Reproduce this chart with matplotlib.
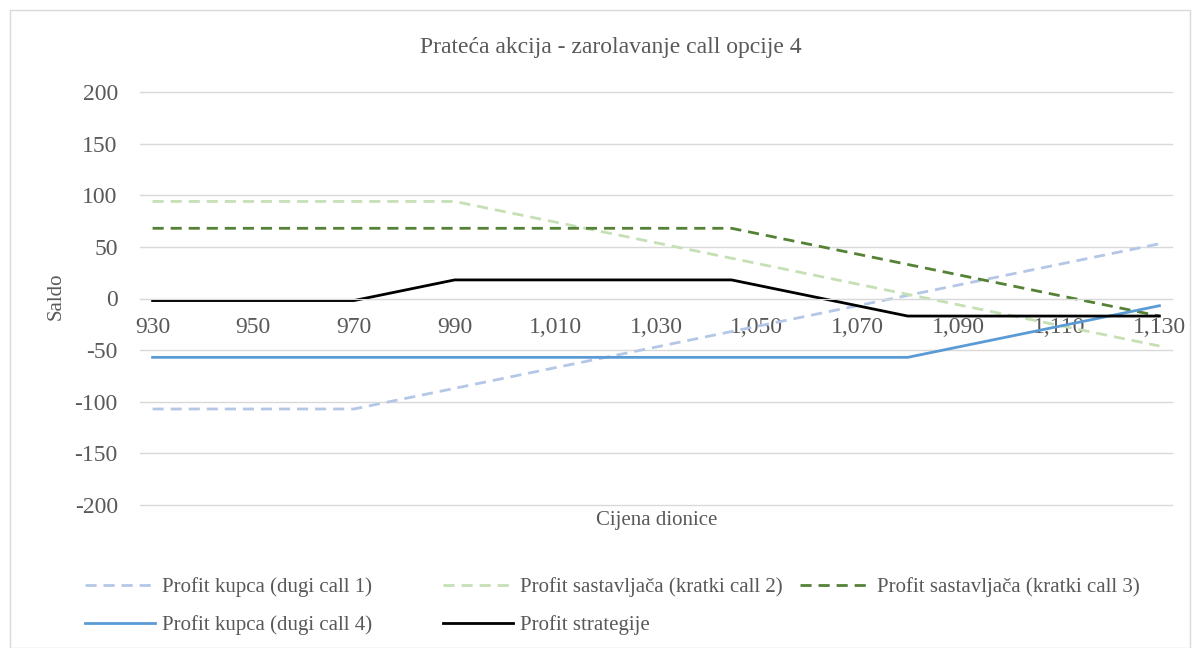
import matplotlib.pyplot as plt
from matplotlib.patches import Rectangle
from matplotlib.ticker import FuncFormatter

plt.rcParams['font.family'] = ['Liberation Serif', 'DejaVu Serif']
plt.rcParams['axes.unicode_minus'] = False

# stock price breakpoints
prices = [930, 970, 990, 1045, 1080, 1130]

long_call_1 = [-107, -107, -87, -32, 3, 53]
short_call_2 = [94, 94, 94, 39, 4, -46]
short_call_3 = [68, 68, 68, 68, 33, -17]
long_call_4 = [-57, -57, -57, -57, -57, -7]
strategy = [-2, -2, 18, 18, -17, -17]

labels = ['Profit kupca (dugi call 1)', 'Profit sastavljača (kratki call 2)',
          'Profit sastavljača (kratki call 3)', 'Profit kupca (dugi call 4)',
          'Profit strategije']

grey = '#595959'

fig = plt.figure(figsize=(12, 6.48), dpi=100)
ax = fig.add_axes([140 / 1200, 1 - 505 / 648, 1032 / 1200, 413 / 648])

l1, = ax.plot(prices, long_call_1, color='#b4c7e7', lw=2, ls=(0, (4, 2.5)))
l2, = ax.plot(prices, short_call_2, color='#c5e0b4', lw=2, ls=(0, (4, 2.5)))
l3, = ax.plot(prices, short_call_3, color='#548235', lw=2, ls=(0, (4, 2.5)))
l4, = ax.plot(prices, long_call_4, color='#5b9bd5', lw=2)
l5, = ax.plot(prices, strategy, color='black', lw=2)

ax.set_xlim(927.5, 1132.5)
ax.set_ylim(-200, 200)
ax.set_yticks(range(-200, 201, 50))
ax.set_xticks(range(930, 1131, 20))
ax.xaxis.set_major_formatter(FuncFormatter(lambda v, p: f'{int(v):,}'))
ax.grid(axis='y', color='#d9d9d9', lw=1)
for gl in ax.get_ygridlines():
    gl.set_clip_on(False)
ax.set_axisbelow(True)
for s in ax.spines.values():
    s.set_visible(False)
ax.spines['bottom'].set_visible(True)
ax.spines['bottom'].set_position(('data', 0))
ax.spines['bottom'].set_color('#d9d9d9')
ax.tick_params(axis='both', length=0, labelsize=17, labelcolor=grey)
ax.tick_params(axis='x', pad=13.5)
ax.tick_params(axis='y', pad=16)

fig.text(611 / 1200, 1 - 47 / 648, 'Prateća akcija - zarolavanje call opcije 4',
         ha='center', va='center', fontsize=17, color=grey)
fig.text(56 / 1200, 1 - 296 / 648, 'Saldo', rotation=90, ha='center', va='center',
         fontsize=15, color=grey)
fig.text(657 / 1200, 1 - 521 / 648, 'Cijena dionice', ha='center', va='center',
         fontsize=15, color=grey)

# legend entries laid out row by row like the original
handles = [l1, l2, l3, l4, l5]
spots = [(85, 587), (443, 587), (800, 587), (85, 625), (443, 625)]
for h, lab, (px, py) in zip(handles, labels, spots):
    fig.legend([h], [lab], loc='center left', bbox_to_anchor=(px / 1200, 1 - py / 648),
               frameon=False, fontsize=15, labelcolor=grey, handlelength=3.35,
               handletextpad=0.33, borderpad=0, borderaxespad=0)

fig.patches.append(Rectangle((10 / 1200, 0), 1180 / 1200, 1 - 10 / 648, transform=fig.transFigure,
                             fill=False, edgecolor='#d9d9d9', lw=1))

fig.savefig('out.png', dpi=100)
